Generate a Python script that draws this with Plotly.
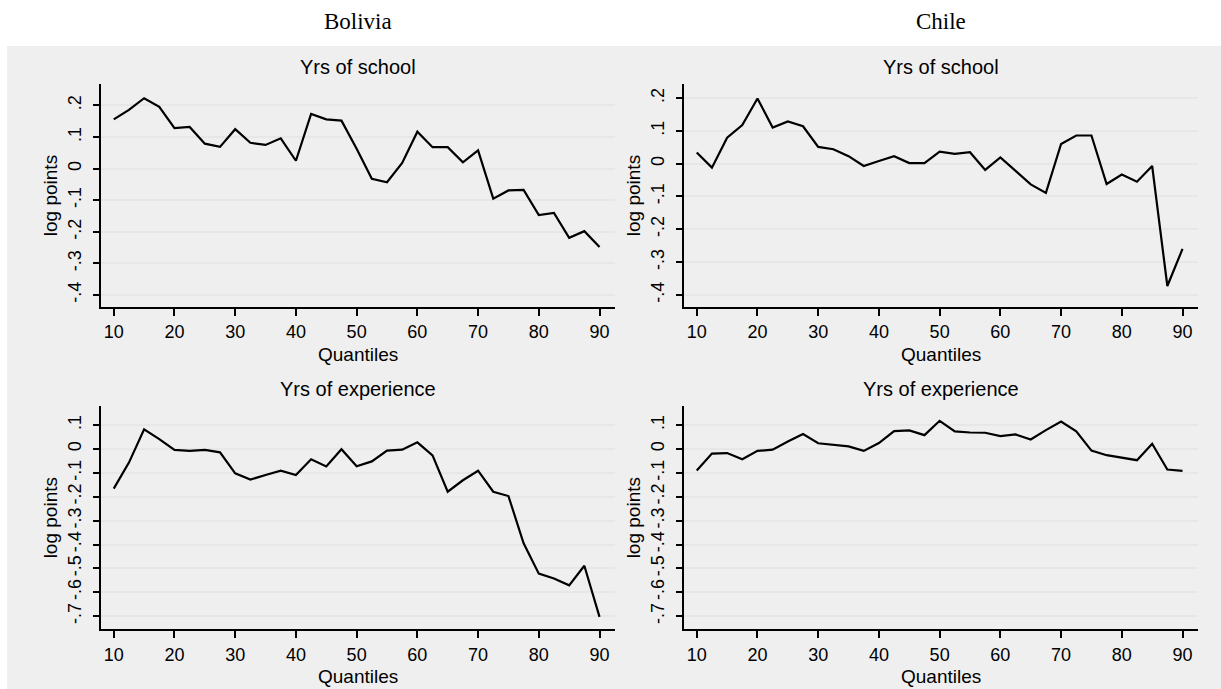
import plotly.graph_objects as go

# ---------------- data ----------------
quantiles = [10, 12.5, 15, 17.5, 20, 22.5, 25, 27.5, 30, 32.5, 35, 37.5, 40,
             42.5, 45, 47.5, 50, 52.5, 55, 57.5, 60, 62.5, 65, 67.5, 70,
             72.5, 75, 77.5, 80, 82.5, 85, 87.5, 90]

bolivia_school = [0.156, 0.186, 0.223, 0.196, 0.128, 0.132, 0.079, 0.069, 0.125,
                  0.082, 0.075, 0.096, 0.025, 0.173, 0.156, 0.152, 0.063, -0.032,
                  -0.043, 0.018, 0.117, 0.068, 0.068, 0.020, 0.058, -0.095, -0.069,
                  -0.067, -0.147, -0.140, -0.219, -0.198, -0.248]

chile_school = [0.034, -0.012, 0.079, 0.118, 0.199, 0.110, 0.129, 0.114, 0.051,
                0.044, 0.023, -0.007, 0.008, 0.023, 0.002, 0.002, 0.037, 0.030,
                0.035, -0.019, 0.019, -0.022, -0.063, -0.089, 0.060, 0.086, 0.086,
                -0.062, -0.033, -0.055, -0.007, -0.373, -0.260]

bolivia_exp = [-0.166, -0.057, 0.082, 0.041, -0.004, -0.008, -0.004, -0.014, -0.102,
               -0.128, -0.109, -0.091, -0.109, -0.043, -0.073, -0.001, -0.072, -0.052,
               -0.007, -0.003, 0.028, -0.027, -0.179, -0.131, -0.091, -0.179, -0.197,
               -0.395, -0.522, -0.542, -0.571, -0.489, -0.703]

chile_exp = [-0.090, -0.019, -0.017, -0.043, -0.008, -0.003, 0.031, 0.063, 0.024,
             0.019, 0.011, -0.008, 0.025, 0.075, 0.078, 0.058, 0.118, 0.074, 0.069,
             0.068, 0.054, 0.061, 0.040, 0.079, 0.115, 0.074, -0.007, -0.026,
             -0.035, -0.047, 0.022, -0.086, -0.092]

countries = ["Bolivia", "Chile"]
panel_titles = ["Yrs of school", "Yrs of experience"]
x_title = "Quantiles"
y_title = "log points"

x_ticks = [10, 20, 30, 40, 50, 60, 70, 80, 90]
school_ticks = [-0.4, -0.3, -0.2, -0.1, 0, 0.1, 0.2]
school_tick_labels = ["-.4", "-.3", "-.2", "-.1", "0", ".1", ".2"]
exp_ticks = [-0.7, -0.6, -0.5, -0.4, -0.3, -0.2, -0.1, 0, 0.1]
exp_tick_labels = ["-.7", "-.6", "-.5", "-.4", "-.3", "-.2", "-.1", "0", ".1"]

# ---------------- layout helpers ----------------
W, H = 1221, 689
FONT = "Liberation Sans, Arial, sans-serif"
SERIF = "Liberation Serif, Times New Roman, serif"
BG = "#efefef"
GRID = "#e7e7e7"


def px_x(v):
    return v / W


def px_y(v):
    return 1 - v / H


cols = [(100.7, 615.0), (683.7, 1198.0)]
rows = [(84.0, 307.0), (406.0, 629.3)]

panels = [
    # (series, row, col, yticks, ylabels, yrange)
    (bolivia_school, 0, 0, school_ticks, school_tick_labels, [-0.438, 0.268]),
    (chile_school, 0, 1, school_ticks, school_tick_labels, [-0.437, 0.243]),
    (bolivia_exp, 1, 0, exp_ticks, exp_tick_labels, [-0.755, 0.180]),
    (chile_exp, 1, 1, exp_ticks, exp_tick_labels, [-0.755, 0.180]),
]

fig = go.Figure()
layout = dict(
    width=W, height=H,
    margin=dict(l=0, r=0, t=0, b=0),
    paper_bgcolor="white",
    plot_bgcolor="white",
    showlegend=False,
    font=dict(family=FONT, size=18, color="black"),
)
annotations = []
shapes = [dict(type="rect", xref="paper", yref="paper",
               x0=px_x(7), x1=1, y0=0, y1=px_y(46),
               fillcolor=BG, line=dict(width=0), layer="below")]

for i, (series, r, c, yt, yl, yr) in enumerate(panels):
    n = "" if i == 0 else str(i + 1)
    fig.add_trace(go.Scatter(
        x=quantiles, y=series, mode="lines",
        line=dict(color="black", width=2.2),
        xaxis="x" + n, yaxis="y" + n, hoverinfo="skip",
    ))
    x0, x1 = cols[c]
    y0, y1 = rows[r]
    layout["xaxis" + n] = dict(
        domain=[px_x(x0), px_x(x1)], anchor="y" + n,
        range=[7.85, 92.55], tickvals=x_ticks, ticktext=[str(t) for t in x_ticks],
        showgrid=False, zeroline=False,
        showline=True, linecolor="black", linewidth=1.5,
        ticks="outside", ticklen=7, tickwidth=1.5, tickcolor="black",
        tickfont=dict(family=FONT, size=18),
        ticklabelstandoff=1,
    )
    layout["yaxis" + n] = dict(
        domain=[px_y(y1), px_y(y0)], anchor="x" + n,
        range=yr, tickvals=yt, ticktext=yl, tickangle=-90,
        showgrid=True, gridcolor=GRID, gridwidth=1.5, zeroline=False,
        showline=True, linecolor="black", linewidth=1.5,
        ticks="outside", ticklen=6, tickwidth=1.5, tickcolor="black",
        tickfont=dict(family=FONT, size=18),
        ticklabelstandoff=5,
    )
    cx = px_x((x0 + x1) / 2)
    # panel title
    annotations.append(dict(text=panel_titles[r], x=cx, y=px_y(y0 - 17),
                            xref="paper", yref="paper", showarrow=False,
                            xanchor="center", yanchor="middle",
                            font=dict(family=FONT, size=20)))
    # x axis title
    annotations.append(dict(text=x_title, x=cx, y=px_y(y1 + 47),
                            xref="paper", yref="paper", showarrow=False,
                            xanchor="center", yanchor="middle",
                            font=dict(family=FONT, size=19)))
    # y axis title
    annotations.append(dict(text=y_title, x=px_x(x0 - 50), y=px_y((y0 + y1) / 2),
                            xref="paper", yref="paper", showarrow=False,
                            textangle=-90, xanchor="center", yanchor="middle",
                            font=dict(family=FONT, size=19)))

for c, name in enumerate(countries):
    x0, x1 = cols[c]
    annotations.append(dict(text=name, x=px_x((x0 + x1) / 2), y=px_y(21),
                            xref="paper", yref="paper", showarrow=False,
                            xanchor="center", yanchor="middle",
                            font=dict(family=SERIF, size=23)))

layout["annotations"] = annotations
layout["shapes"] = shapes
fig.update_layout(**layout)
fig.write_html(
    "out.html",
    config={"displayModeBar": False},
    post_script="document.body.style.margin='0';document.body.style.padding='0';"
                "document.body.style.overflow='hidden';",
)
